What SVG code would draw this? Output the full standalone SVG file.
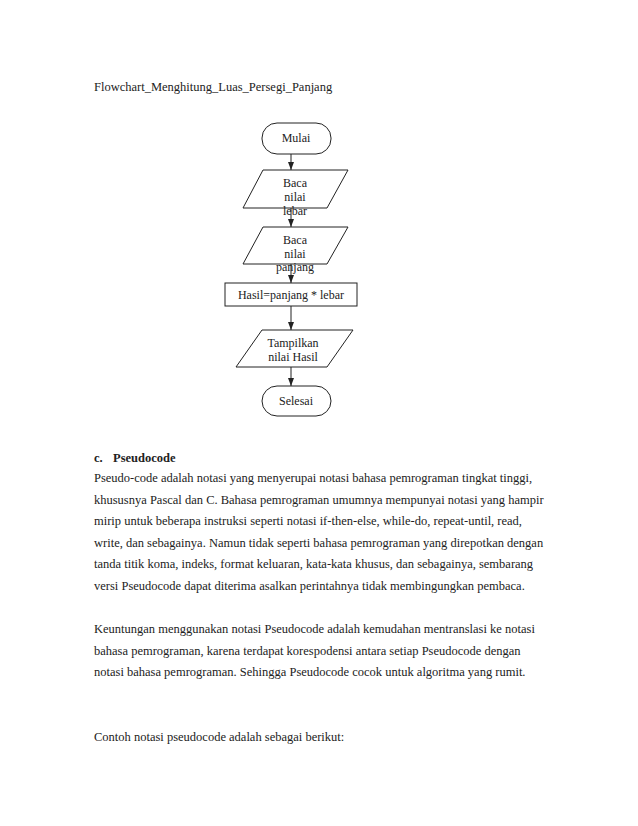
<svg xmlns="http://www.w3.org/2000/svg" width="638" height="826" viewBox="0 0 638 826">
<defs>
<style>
.t{font-family:"Liberation Serif","Times New Roman",serif;font-size:12px;fill:#222}
.b{font-family:"Liberation Serif","Times New Roman",serif;font-size:12.5px;fill:#222}
.c{text-anchor:middle}
.s{fill:#fff;stroke:#222;stroke-width:1}
.e{stroke:#222;stroke-width:1;fill:none;marker-end:url(#ah)}
</style>
<marker id="ah" viewBox="0 0 8 8" refX="8" refY="4" markerWidth="8" markerHeight="8" markerUnits="userSpaceOnUse" orient="auto">
<path d="M0,1 L8,4 L0,7 Z" fill="#222"/>
</marker>
</defs>
<rect width="638" height="826" fill="#fff"/>
<text class="b" x="94" y="91">Flowchart_Menghitung_Luas_Persegi_Panjang</text>
<g id="mulai"><rect class="s" x="262" y="123" width="69" height="31" rx="15"/><text class="t c" x="296" y="142">Mulai</text></g>
<g id="baca-lebar"><polygon class="s" points="263,170 348,170 327,208 243,208"/><text class="t c" x="295" y="187">Baca</text><text class="t c" x="295" y="201">nilai</text><text class="t c" x="295" y="215">lebar</text></g>
<g id="baca-panjang"><polygon class="s" points="263,227 348,227 327,264 243,264"/><text class="t c" x="295" y="244">Baca</text><text class="t c" x="295" y="258">nilai</text><text class="t c" x="295" y="271">panjang</text></g>
<g id="hasil"><rect class="s" x="225" y="283" width="132" height="23"/><text class="t c" x="291" y="299">Hasil=panjang * lebar</text></g>
<g id="tampilkan"><polygon class="s" points="262,330 353,330 327,367 236,367"/><text class="t c" x="293" y="347">Tampilkan</text><text class="t c" x="293" y="361">nilai Hasil</text></g>
<g id="selesai"><rect class="s" x="262" y="386" width="69" height="30" rx="15"/><text class="t c" x="296" y="405">Selesai</text></g>
<g id="connectors">
<line class="e" x1="291" y1="154" x2="291" y2="170"/>
<line class="e" x1="291" y1="208" x2="291" y2="227"/>
<line class="e" x1="291" y1="264" x2="291" y2="283"/>
<line class="e" x1="291" y1="306" x2="291" y2="330"/>
<line class="e" x1="291" y1="367" x2="291" y2="386"/>
</g>
<text class="b" x="94" y="462" font-weight="bold">c.</text>
<text class="b" x="113" y="462" font-weight="bold">Pseudocode</text>
<text class="b" x="94" y="482">Pseudo-code adalah notasi yang menyerupai notasi bahasa pemrograman tingkat tinggi,</text>
<text class="b" x="94" y="503.5">khususnya Pascal dan C. Bahasa pemrograman umumnya mempunyai notasi yang hampir</text>
<text class="b" x="94" y="525">mirip untuk beberapa instruksi seperti notasi if-then-else, while-do, repeat-until, read,</text>
<text class="b" x="94" y="546.5">write, dan sebagainya. Namun tidak seperti bahasa pemrograman yang direpotkan dengan</text>
<text class="b" x="94" y="568">tanda titik koma, indeks, format keluaran, kata-kata khusus, dan sebagainya, sembarang</text>
<text class="b" x="94" y="589.5">versi Pseudocode dapat diterima asalkan perintahnya tidak membingungkan pembaca.</text>
<text class="b" x="94" y="633">Keuntungan menggunakan notasi Pseudocode adalah kemudahan mentranslasi ke notasi</text>
<text class="b" x="94" y="654.5">bahasa pemrograman, karena terdapat korespodensi antara setiap Pseudocode dengan</text>
<text class="b" x="94" y="676">notasi bahasa pemrograman. Sehingga Pseudocode cocok untuk algoritma yang rumit.</text>
<text class="b" x="94" y="741">Contoh notasi pseudocode adalah sebagai berikut:</text>
</svg>
